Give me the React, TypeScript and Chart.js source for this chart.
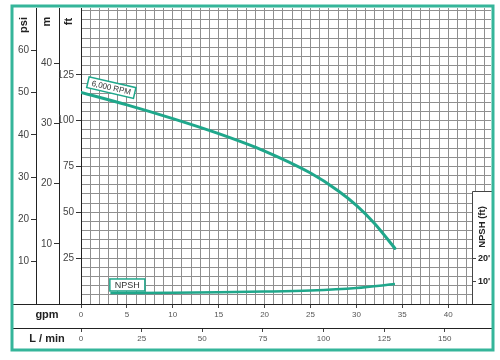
import React, { useEffect, useRef } from "react";
import { Chart, registerables } from "chart.js";

Chart.register(...registerables);

// ---- data ----
const headGpm = [0, 5, 10, 15, 20, 25, 28, 30, 32, 34.2];
const headFt = [115.4, 108.6, 101.1, 92.9, 83.4, 71.4, 61.8, 53.8, 43.8, 30.3];
const npshGpm = [3.2, 10, 15, 20, 25, 30, 34.2];
const npshFt = [4.8, 4.9, 5.1, 5.4, 5.9, 7.0, 8.7];

const psiTicks = [10, 20, 30, 40, 50, 60];
const mTicks = [10, 20, 30, 40];
const ftTicks = [25, 50, 75, 100, 125];
const npshTicks = [10, 20];
const gpmTicks = [0, 5, 10, 15, 20, 25, 30, 35, 40];
const lminTicks = [0, 25, 50, 75, 100, 125, 150];

const curveLabel = "6,000 RPM";
const npshLabel = "NPSH";

// ---- unit ranges ----
const GPM_MAX = 44.66;
const FT_MAX = 161.4;
const PSI_MAX = FT_MAX / 2.3067;
const M_MAX = FT_MAX / 3.2808;
const NPSH_MAX = FT_MAX / 1.25;
const LMIN_MAX = GPM_MAX * 3.7854;

const FAMILY = "'Liberation Sans', Arial, sans-serif";
const TEAL = "#1fa78b";
const FRAME = "#35b59a";
const GRID = "#8f8f8f";
const DARK = "#222";

const range = (a: number, b: number, s: number) => {
  const out: number[] = [];
  for (let v = a; v <= b + 1e-9; v += s) out.push(v);
  return out;
};

const decorPlugin = {
  id: "decor",
  afterDraw(chart: any) {
    const ctx = chart.ctx as CanvasRenderingContext2D;
    const ca = chart.chartArea;
    const sx = chart.scales.x;
    const sl = chart.scales.xl;
    const sft = chart.scales.ft;
    const sn = chart.scales.npsh;
    ctx.save();

    // NPSH axis box
    const bl = ca.right - 19;
    const bt = ca.bottom - 113;
    const br = 493;
    ctx.fillStyle = "#fff";
    ctx.fillRect(bl, bt, br - bl, ca.bottom - bt);
    ctx.strokeStyle = "#444";
    ctx.lineWidth = 1;
    ctx.beginPath();
    ctx.moveTo(bl + 0.5, ca.bottom);
    ctx.lineTo(bl + 0.5, bt + 0.5);
    ctx.lineTo(br, bt + 0.5);
    ctx.stroke();
    ctx.font = `bold 9px ${FAMILY}`;
    ctx.fillStyle = "#222";
    ctx.textAlign = "left";
    ctx.textBaseline = "middle";
    npshTicks.forEach((v) => {
      const y = Math.round(sn.getPixelForValue(v)) + 0.5;
      ctx.beginPath();
      ctx.moveTo(bl, y);
      ctx.lineTo(bl + 4, y);
      ctx.stroke();
      ctx.fillText(`${v}'`, bl + 6, y);
    });
    ctx.save();
    ctx.translate(bl + 10.5, bt + 36);
    ctx.rotate(-Math.PI / 2);
    ctx.textAlign = "center";
    ctx.textBaseline = "middle";
    ctx.font = `bold 9.5px ${FAMILY}`;
    ctx.fillText("NPSH (ft)", 0, 0);
    ctx.restore();

    // left axis titles
    const titles: [string, number, number][] = [
      ["psi", 24, 25],
      ["m", 47, 21.5],
      ["ft", 69, 21.5],
    ];
    ctx.font = `bold 11px ${FAMILY}`;
    ctx.fillStyle = "#222";
    titles.forEach(([t, x, y]) => {
      ctx.save();
      ctx.translate(x, y);
      ctx.rotate(-Math.PI / 2);
      ctx.textAlign = "center";
      ctx.textBaseline = "middle";
      ctx.fillText(t, 0, 0);
      ctx.restore();
    });

    // bottom rows
    const left = 12;
    const right = 493;
    ctx.strokeStyle = DARK;
    ctx.lineWidth = 1;
    [sx.top, sl.top].forEach((y: number) => {
      const yy = Math.round(y) + 0.5;
      ctx.beginPath();
      ctx.moveTo(left, yy);
      ctx.lineTo(right, yy);
      ctx.stroke();
    });
    ctx.font = `bold 11px ${FAMILY}`;
    ctx.textAlign = "center";
    ctx.textBaseline = "middle";
    ctx.fillText("gpm", 47, (sx.top + sx.bottom) / 2 - 1);
    ctx.fillText("L / min", 47, (sl.top + sl.bottom) / 2);

    // curve label boxes
    const drawTag = (text: string, cx: number, cy: number, w: number, h: number, rot: number, size: number) => {
      ctx.save();
      ctx.translate(cx, cy);
      ctx.rotate(rot);
      ctx.fillStyle = "#fff";
      ctx.fillRect(-w / 2, -h / 2, w, h);
      ctx.strokeStyle = TEAL;
      ctx.lineWidth = 1.5;
      ctx.strokeRect(-w / 2, -h / 2, w, h);
      ctx.fillStyle = "#333";
      ctx.font = `${size}px ${FAMILY}`;
      ctx.textAlign = "center";
      ctx.textBaseline = "middle";
      ctx.fillText(text, 0, 0.5);
      ctx.restore();
    };
    drawTag(curveLabel, sx.getPixelForValue(3.3), sft.getPixelForValue(118), 48, 11, (13 * Math.PI) / 180, 8);
    drawTag(npshLabel, sx.getPixelForValue(5.05), sn.getPixelForValue(8.3), 35, 12, 0, 9);

    // outer frame
    ctx.strokeStyle = FRAME;
    ctx.lineWidth = 3;
    ctx.strokeRect(12, 6, 481, 344);
    ctx.restore();
  },
};

export default function App() {
  const ref = useRef<HTMLCanvasElement | null>(null);

  useEffect(() => {
    if (!ref.current) return;
    Chart.defaults.font.family = FAMILY;
    const chart = new Chart(ref.current, {
      type: "line",
      data: {
        datasets: [
          {
            label: curveLabel,
            data: headGpm.map((g, i) => ({ x: g, y: headFt[i] })),
            xAxisID: "x",
            yAxisID: "ft",
            borderColor: TEAL,
            borderWidth: 3,
            pointRadius: 0,
            cubicInterpolationMode: "monotone",
            borderCapStyle: "round",
            fill: false,
          },
          {
            label: npshLabel,
            data: npshGpm.map((g, i) => ({ x: g, y: npshFt[i] })),
            xAxisID: "x",
            yAxisID: "npsh",
            borderColor: TEAL,
            borderWidth: 2.5,
            pointRadius: 0,
            cubicInterpolationMode: "monotone",
            fill: false,
          },
        ],
      },
      options: {
        animation: false,
        responsive: false,
        devicePixelRatio: 1,
        layout: { padding: { left: 12, top: 7, right: 9, bottom: 10 } },
        plugins: { legend: { display: false }, tooltip: { enabled: false } },
        scales: {
          x: {
            type: "linear",
            position: "bottom",
            weight: 1,
            min: 0,
            max: GPM_MAX,
            afterFit: (s: any) => {
              s.height = 24;
            },
            afterBuildTicks: (s: any) => {
              s.ticks = range(0, 44, 1).map((v) => ({ value: v }));
            },
            ticks: {
              autoSkip: false,
              maxRotation: 0,
              padding: 2,
              color: "#555",
              font: { size: 8 },
              callback: (v: any) => (gpmTicks.includes(v) ? String(v) : ""),
            },
            grid: {
              color: (c: any) => (c.tick && c.tick.value === 0 ? "rgba(0,0,0,0)" : GRID),
              lineWidth: 1,
              tickLength: 4,
              tickColor: (c: any) => (c.tick && gpmTicks.includes(c.tick.value) ? "#444" : "rgba(0,0,0,0)"),
            },
            border: { display: true, color: DARK, width: 1 },
          },
          xl: {
            type: "linear",
            position: "bottom",
            weight: 2,
            min: 0,
            max: LMIN_MAX,
            afterFit: (s: any) => {
              s.height = 22;
            },
            afterBuildTicks: (s: any) => {
              s.ticks = lminTicks.map((v) => ({ value: v }));
            },
            ticks: { autoSkip: false, maxRotation: 0, padding: 2, color: "#555", font: { size: 8 } },
            grid: { drawOnChartArea: false, tickLength: 4, color: "#444" },
            border: { display: true, color: DARK, width: 1 },
          },
          psi: {
            type: "linear",
            position: "left",
            weight: 3,
            min: 0,
            max: PSI_MAX,
            afterFit: (s: any) => {
              s.width = 24;
            },
            afterBuildTicks: (s: any) => {
              s.ticks = psiTicks.map((v) => ({ value: v }));
            },
            ticks: { autoSkip: false, padding: 2, color: "#444", font: { size: 10 } },
            grid: { drawOnChartArea: false, tickLength: 5, color: "#333" },
            border: { display: true, color: DARK, width: 1 },
          },
          m: {
            type: "linear",
            position: "left",
            weight: 2,
            min: 0,
            max: M_MAX,
            afterFit: (s: any) => {
              s.width = 23;
            },
            afterBuildTicks: (s: any) => {
              s.ticks = mTicks.map((v) => ({ value: v }));
            },
            ticks: { autoSkip: false, padding: 2, color: "#444", font: { size: 10 } },
            grid: { drawOnChartArea: false, tickLength: 5, color: "#333" },
            border: { display: true, color: DARK, width: 1 },
          },
          ft: {
            type: "linear",
            position: "left",
            weight: 1,
            min: 0,
            max: FT_MAX,
            afterFit: (s: any) => {
              s.width = 22;
            },
            afterBuildTicks: (s: any) => {
              s.ticks = range(0, 160, 5).map((v) => ({ value: v }));
            },
            ticks: {
              autoSkip: false,
              padding: 2,
              color: "#444",
              font: { size: 10 },
              callback: (v: any) => (ftTicks.includes(v) ? String(v) : ""),
            },
            grid: {
              color: (c: any) => (c.tick && c.tick.value === 0 ? "rgba(0,0,0,0)" : GRID),
              lineWidth: 1,
              tickLength: 5,
              tickColor: (c: any) => (c.tick && ftTicks.includes(c.tick.value) ? "#333" : "rgba(0,0,0,0)"),
            },
            border: { display: true, color: DARK, width: 1 },
          },
          npsh: {
            type: "linear",
            position: "right",
            display: false,
            min: 0,
            max: NPSH_MAX,
          },
        },
      } as any,
      plugins: [decorPlugin],
    });
    return () => chart.destroy();
  }, []);

  return (
    <div style={{ position: "fixed", left: 0, top: 0, width: 500, height: 360, background: "#fff" }}>
      <canvas ref={ref} width={500} height={360} style={{ display: "block" }} />
    </div>
  );
}
